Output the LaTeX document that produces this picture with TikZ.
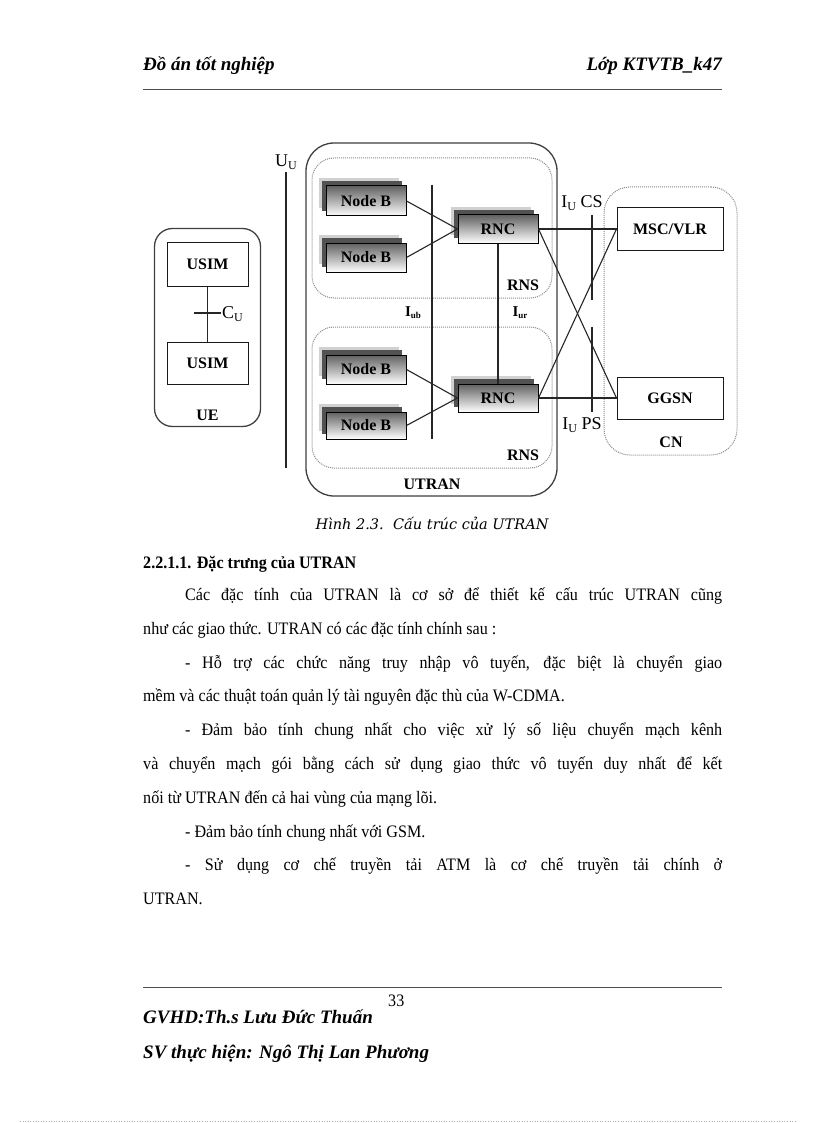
\documentclass[tikz,border=0pt]{standalone}
\usepackage{fontspec}
\setmainfont{Liberation Serif}
\newfontfamily\capfont{DejaVu Serif}
\newfontfamily\bodyfont[FakeStretch=0.92]{Liberation Serif}
\newcommand\mysub[1]{\raisebox{-0.35ex}{\fontsize{12}{12}\selectfont #1}}
\newcommand\smallsub[1]{\raisebox{-0.3ex}{\fontsize{9}{9}\selectfont #1}}
\newcommand\shbg[4]{%
  \fill[black!18] ({#1-#3/2-7},{#2-#4/2-8}) rectangle ({#1+#3/2-7},{#2+#4/2-8});
  \fill[black!68] ({#1-#3/2-4},{#2-#4/2-5}) rectangle ({#1+#3/2-4},{#2+#4/2-5});}
\begin{document}
\begin{tikzpicture}[x=1pt,y=-1pt,
  hdr/.style={font=\fontsize{19}{22}\selectfont\bfseries\itshape, inner sep=0pt},
  body/.style={font=\bodyfont\fontsize{17.5}{20}\selectfont, inner sep=0pt, anchor=base west},
  conn/.style={draw=black!85, line width=1.1pt},
  boxlbl/.style={font=\fontsize{16}{18}\selectfont\bfseries, inner sep=0pt},
  lbl/.style={font=\fontsize{18}{20}\selectfont, inner sep=0pt},
  plainbox/.style={draw=black!90, line width=1pt, fill=white, font=\fontsize{16}{18}\selectfont\bfseries, inner sep=0pt},
  shbox/.style={draw=black, line width=1pt, shade, top color=black!62, bottom color=white,
    font=\fontsize{16}{18}\selectfont\bfseries, inner sep=0pt},
  solidcont/.style={draw=black!75, line width=1.3pt},
  dotcont/.style={draw=black!45, densely dotted, line width=1pt}
]
\useasboundingbox (0,0) rectangle (816,1123);
\fill[white] (0,0) rectangle (816,1123);

% header
\node[hdr, anchor=base west] (h1) at (143,71) {Đồ án tốt nghiệp};
\node[hdr, anchor=base east] (h2) at (722,71) {Lớp KTVTB\_k47};
\coordinate (hrL) at (143,89); \coordinate (hrR) at (722,89);
\draw[black!70, line width=0.9pt] (hrL) -- (hrR);

% containers
\node[solidcont, rounded corners=18pt, minimum width=106pt, minimum height=198pt] (ue) at (207.5,327.5) {};
\node[solidcont, rounded corners=28pt, minimum width=251pt, minimum height=353pt] (utran) at (431.5,319.5) {};
\node[dotcont, rounded corners=22pt, minimum width=240pt, minimum height=140pt] (rns1) at (432,228) {};
\node[dotcont, rounded corners=22pt, minimum width=240pt, minimum height=141pt] (rns2) at (432,397.5) {};
\node[dotcont, rounded corners=26pt, minimum width=133pt, minimum height=268pt] (cn) at (670.5,321) {};

% labels of containers
\node[boxlbl] (uelbl) at (207.5,415) {UE};
\node[boxlbl] (utranlbl) at (432,484) {UTRAN};
\node[boxlbl] (rnslbl1) at (523,285) {RNS};
\node[boxlbl] (rnslbl2) at (523,455) {RNS};
\node[boxlbl] (cnlbl) at (671,442) {CN};

% UE internals
\node[plainbox, minimum width=81pt, minimum height=44pt] (usim1) at (207.5,264) {USIM};
\node[plainbox, minimum width=81pt, minimum height=42pt] (usim2) at (207.5,363) {USIM};
\draw[conn] (usim1) -- (usim2);
\coordinate (cuL) at (194,313); \coordinate (cuR) at (221,313);
\draw[conn] (cuL) -- (cuR);
\node[lbl, anchor=west] (cu) at (222,314) {C\mysub{U}};

% Uu
\node[lbl] (uu) at (286,162) {U\mysub{U}};
\coordinate (uuT) at (286,172); \coordinate (uuB) at (286,468);
\draw[conn] (uuT) -- (uuB);

% Iub / Iur lines
\coordinate (iubT) at (432,185); \coordinate (iubB) at (432,439);
\draw[conn] (iubT) -- (iubB);
\node[font=\fontsize{15}{16}\selectfont\bfseries, inner sep=0pt] (iub) at (413,313) {I\smallsub{ub}};
\node[font=\fontsize{15}{16}\selectfont\bfseries, inner sep=0pt] (iur) at (520,313) {I\smallsub{ur}};

% Iu lines
\coordinate (csT) at (592,215); \coordinate (csB) at (592,300);
\coordinate (psT) at (592,327); \coordinate (psB) at (592,412);
\draw[conn] (csT) -- (csB);
\draw[conn] (psT) -- (psB);
\node[lbl] (iucs) at (582,203) {I\mysub{U} CS};
\node[lbl] (iups) at (582,425) {I\mysub{U} PS};

% shadows of Node B and RNC
\shbg{366}{201}{80}{30}
\shbg{366}{257.5}{80}{29}
\shbg{366}{369.5}{80}{29}
\shbg{366}{425.5}{80}{27}
\shbg{498}{229}{80}{28}
\shbg{498}{398}{80}{28}

% Node B and RNC
\node[shbox, minimum width=80pt, minimum height=30pt] (nb1) at (366,201) {Node B};
\node[shbox, minimum width=80pt, minimum height=29pt] (nb2) at (366,257.5) {Node B};
\node[shbox, minimum width=80pt, minimum height=29pt] (nb3) at (366,369.5) {Node B};
\node[shbox, minimum width=80pt, minimum height=27pt] (nb4) at (366,425.5) {Node B};
\node[shbox, minimum width=80pt, minimum height=28pt] (rnc1) at (498,229) {RNC};
\node[shbox, minimum width=80pt, minimum height=28pt] (rnc2) at (498,398) {RNC};

% CN boxes
\node[plainbox, minimum width=106pt, minimum height=42pt] (msc) at (670,229) {MSC/VLR};
\node[plainbox, minimum width=106pt, minimum height=42pt] (ggsn) at (670,398) {GGSN};

% connectors
\draw[conn] (nb1.east) -- (rnc1.west);
\draw[conn] (nb2.east) -- (rnc1.west);
\draw[conn] (nb3.east) -- (rnc2.west);
\draw[conn] (nb4.east) -- (rnc2.west);
\draw[conn] (rnc1.south) -- (rnc2.north);
\draw[conn] (rnc1.east) -- (msc.west);
\draw[conn] (rnc1.east) -- (ggsn.west);
\draw[conn] (rnc2.east) -- (ggsn.west);
\draw[conn] (rnc2.east) -- (msc.west);

% caption
\node[font=\capfont\itshape\fontsize{14.5}{16}\selectfont, inner sep=0pt] (cap) at (432,523) {Hình 2.3.\ \ Cấu trúc của UTRAN};

% body text
\node[body, font=\bodyfont\fontsize{17.5}{20}\selectfont\bfseries] (t1) at (143,568) {2.2.1.1. Đặc trưng của UTRAN};
\node[body] (t2) at (185,600) {\makebox[537pt][s]{Các đặc tính của UTRAN là cơ sở để thiết kế cấu trúc UTRAN cũng}};
\node[body] (t3) at (143,634) {như các giao thức. UTRAN có các đặc tính chính sau :};
\node[body] (t4) at (185,668) {\makebox[537pt][s]{- Hỗ trợ các chức năng truy nhập vô tuyến, đặc biệt là chuyển giao}};
\node[body] (t5) at (143,701) {mềm và các thuật toán quản lý tài nguyên đặc thù của W-CDMA.};
\node[body] (t6) at (185,735) {\makebox[537pt][s]{- Đảm bảo tính chung nhất cho việc xử lý số liệu chuyển mạch kênh}};
\node[body] (t7) at (143,769) {\makebox[579pt][s]{và chuyển mạch gói bằng cách sử dụng giao thức vô tuyến duy nhất để kết}};
\node[body] (t8) at (143,803) {nối từ UTRAN đến cả hai vùng của mạng lõi.};
\node[body] (t9) at (185,837) {- Đảm bảo tính chung nhất với GSM.};
\node[body] (t10) at (185,870) {\makebox[537pt][s]{- Sử dụng cơ chế truyền tải ATM là cơ chế truyền tải chính ở}};
\node[body] (t11) at (143,904) {UTRAN.};

% footer
\coordinate (frL) at (143,987); \coordinate (frR) at (722,987);
\draw[black!70, line width=0.9pt] (frL) -- (frR);
\node[body] (pg) at (388,1006) {33};
\node[hdr, anchor=base west] (f1) at (143,1023) {GVHD:Th.s Lưu Đức Thuấn};
\node[hdr, anchor=base west] (f2) at (143,1058) {SV thực hiện: Ngô Thị Lan Phương};
\coordinate (btL) at (20,1121); \coordinate (btR) at (796,1121);
\draw[black!30, dotted, line width=0.6pt] (btL) -- (btR);
\end{tikzpicture}
\end{document}
